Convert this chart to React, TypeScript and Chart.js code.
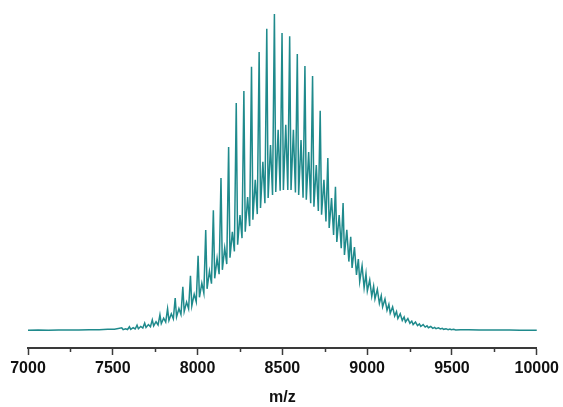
import React, { useEffect, useRef } from "react";
import { Chart, registerables } from "chart.js";

Chart.register(...registerables);

// Main (tall) peaks of the series: m/z and relative intensity (%)
const spikeMz = [7553, 7598, 7643, 7688, 7733, 7778, 7823, 7868, 7913, 7958, 8003, 8048, 8093, 8138, 8183, 8228, 8273, 8318, 8363, 8408, 8453, 8498, 8543, 8588, 8633, 8678, 8723, 8768, 8813, 8858, 8903, 8948, 8993, 9038, 9083, 9128, 9173, 9218, 9263, 9308, 9353, 9398, 9443, 9488];
const spikeInt = [0.9, 1.2, 1.7, 2.4, 3.4, 5.0, 6.9, 10.3, 13.8, 17.3, 23.6, 31.8, 38.0, 48.2, 58.0, 71.9, 75.7, 83.3, 88.0, 95.3, 100, 94.0, 93.0, 87.4, 83.6, 80.4, 69.4, 54.5, 45.4, 40.3, 29.6, 22.6, 18.0, 14.0, 11.0, 8.3, 6.0, 4.3, 3.0, 2.1, 1.5, 1.0, 0.7, 0.5];

// Secondary peaks between the main peaks
const shoulderMz = [7575, 7620, 7665, 7710, 7755, 7800, 7845, 7890, 7935, 7980, 8025, 8070, 8115, 8160, 8205, 8250, 8295, 8340, 8385, 8430, 8475, 8520, 8565, 8610, 8655, 8700, 8745, 8790, 8835, 8880, 8925, 8970, 9015, 9060, 9105, 9150, 9195, 9240, 9285, 9330, 9375, 9420, 9465, 9510];
const shoulderInt = [0.6, 0.9, 1.3, 1.9, 2.8, 3.9, 5.3, 7.0, 9.0, 11.5, 15.0, 18.8, 22.8, 26.1, 31.2, 36.5, 42.2, 47.6, 53.3, 58.6, 63.4, 65.0, 63.4, 60.2, 56.4, 52.3, 47.6, 41.9, 36.5, 31.8, 26.4, 20.5, 16.0, 13.0, 10.0, 7.5, 5.3, 3.8, 2.7, 1.9, 1.3, 0.9, 0.6, 0.4];

// Valleys on either side of the secondary peaks
const valleyMz = [7561, 7587, 7606, 7632, 7651, 7677, 7696, 7722, 7741, 7767, 7786, 7812, 7831, 7857, 7876, 7902, 7921, 7947, 7966, 7992, 8011, 8037, 8056, 8082, 8101, 8127, 8146, 8172, 8191, 8217, 8236, 8262, 8281, 8307, 8326, 8352, 8371, 8397, 8416, 8442, 8461, 8487, 8506, 8532, 8551, 8577, 8596, 8622, 8641, 8667, 8686, 8712, 8731, 8757, 8776, 8802, 8821, 8847, 8866, 8892, 8911, 8937, 8956, 8982, 9001, 9027, 9046, 9072, 9091, 9117, 9136, 9162, 9181, 9207, 9226, 9252, 9271, 9297, 9316, 9342, 9361, 9387, 9406, 9432, 9451, 9477, 9496, 9522];
const valleyInt = [0.3, 0.35, 0.4, 0.5, 0.6, 0.8, 1.0, 1.2, 1.5, 1.8, 2.2, 2.7, 3.2, 3.7, 4.3, 5.1, 6.0, 6.9, 7.8, 9.1, 10.5, 11.8, 13.2, 14.8, 16.5, 17.8, 19.2, 21.0, 23.0, 25.0, 27.1, 29.2, 31.2, 33.0, 35.0, 36.8, 38.7, 40.2, 41.9, 42.8, 43.8, 44.2, 44.4, 44.4, 44.4, 43.6, 42.8, 42.0, 41.3, 40.2, 39.1, 37.8, 36.6, 34.5, 32.4, 30.2, 28.0, 26.0, 23.9, 21.8, 19.8, 17.6, 15.5, 13.5, 12.5, 10.8, 10.0, 8.6, 7.5, 6.4, 5.5, 4.6, 3.8, 3.2, 2.7, 2.3, 1.9, 1.6, 1.3, 1.1, 0.9, 0.7, 0.6, 0.5, 0.4, 0.3, 0.3, 0.2];

// Flat baseline on both sides
const baseMz = [7000, 7060, 7120, 7180, 7240, 7300, 7360, 7420, 7470, 7510, 9550, 9600, 9660, 9720, 9780, 9840, 9900, 9960, 10000];
const baseInt = [0.1, 0.15, 0.1, 0.15, 0.2, 0.2, 0.25, 0.3, 0.4, 0.45, 0.3, 0.25, 0.2, 0.2, 0.15, 0.15, 0.1, 0.1, 0.1];

// Axis ticks
const majorTicks = [7000, 7500, 8000, 8500, 9000, 9500, 10000];
const minorTicks = [7250, 7750, 8250, 8750, 9250, 9750];

const FONT = "'Liberation Sans', Arial, Helvetica, sans-serif";
const AXIS_COLOR = "#3a3a3a";
const LINE_COLOR = "#1f8a8c";

export default function App() {
  const ref = useRef<HTMLCanvasElement | null>(null);

  useEffect(() => {
    if (!ref.current) return;
    const pts: { x: number; y: number }[] = [];
    const add = (xs: number[], ys: number[]) => xs.forEach((x, i) => pts.push({ x, y: ys[i] }));
    add(baseMz, baseInt);
    add(spikeMz, spikeInt);
    add(shoulderMz, shoulderInt);
    add(valleyMz, valleyInt);
    pts.sort((a, b) => a.x - b.x);

    const minorTickPlugin = {
      id: "minorTicks",
      afterDraw(chart: any) {
        const s = chart.scales.x;
        const ctx = chart.ctx;
        ctx.save();
        ctx.strokeStyle = AXIS_COLOR;
        ctx.lineWidth = 1.5;
        minorTicks.forEach((v) => {
          const px = Math.round(s.getPixelForValue(v)) + 0.5;
          ctx.beginPath();
          ctx.moveTo(px, s.top);
          ctx.lineTo(px, s.top + 4);
          ctx.stroke();
        });
        ctx.restore();
      },
    };

    const chart = new Chart(ref.current, {
      type: "line",
      data: {
        datasets: [
          {
            data: pts,
            borderColor: LINE_COLOR,
            borderWidth: 1.5,
            pointRadius: 0,
            tension: 0,
            fill: false,
            clip: false as any,
          },
        ],
      },
      options: {
        animation: false,
        responsive: false,
        devicePixelRatio: 1,
        events: [],
        layout: { padding: { left: 28, right: 25.7, top: 14, bottom: 0 } },
        plugins: { legend: { display: false }, tooltip: { enabled: false } },
        scales: {
          x: {
            type: "linear",
            min: 7000,
            max: 10000,
            afterBuildTicks: (s: any) => {
              s.ticks = majorTicks.map((v) => ({ value: v }));
            },
            afterFit: (s: any) => {
              s.height = 59;
            },
            ticks: {
              autoSkip: false,
              maxRotation: 0,
              padding: 4,
              color: "#111",
              font: { family: FONT, size: 16, weight: "bold" },
              callback: (v: any) => String(v),
            },
            grid: {
              drawOnChartArea: false,
              drawTicks: true,
              tickLength: 7,
              tickWidth: 1.5,
              tickColor: AXIS_COLOR,
            },
            border: { display: true, color: AXIS_COLOR, width: 2 },
            title: {
              display: true,
              text: "m/z",
              color: "#111",
              font: { family: FONT, size: 16, weight: "bold" },
              padding: 0,
            },
          },
          y: { display: false, min: -5.5, max: 100 },
        },
      },
      plugins: [minorTickPlugin],
    } as any);
    return () => chart.destroy();
  }, []);

  return (
    <div style={{ position: "absolute", left: 0, top: 0, width: 563, height: 407, background: "#fff" }}>
      <canvas ref={ref} width={563} height={407} style={{ display: "block" }} />
    </div>
  );
}
